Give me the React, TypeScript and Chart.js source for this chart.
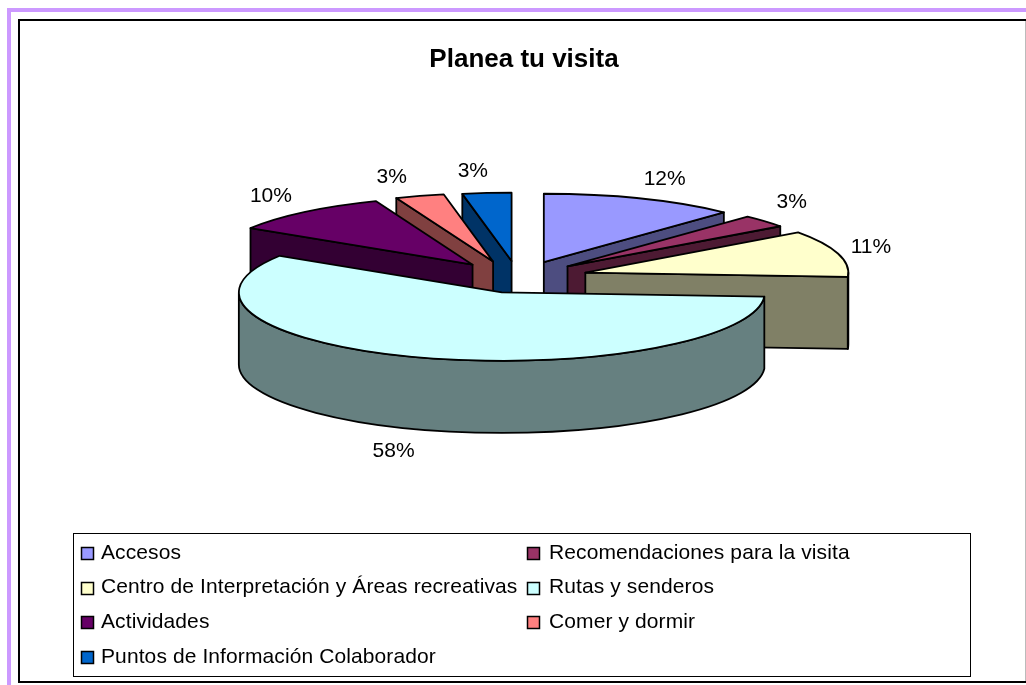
import React, { useEffect, useRef } from "react";
import { Chart, registerables } from "chart.js";

Chart.register(...registerables);

const categories = [
  "Accesos",
  "Recomendaciones para la visita",
  "Centro de Interpretación y Áreas recreativas",
  "Rutas y senderos",
  "Actividades",
  "Comer y dormir",
  "Puntos de Información Colaborador",
];
const shares = [12, 3, 11, 58, 10, 3, 3];
const topColors = ["#9999FF", "#993366", "#FFFFCC", "#CCFFFF", "#660066", "#FF8080", "#0066CC"];
const wallColors = ["#4D4D80", "#4D1A33", "#808066", "#668080", "#330033", "#804040", "#003366"];

const TILT = 0.26;
const DEPTH = 72;
const EXPLODE = 62;
const RADIUS = 263;
const SHIFT_X = -3;
const FONT = "'Liberation Sans', Arial, sans-serif";
// horizontal explosion of each slice (the reference's perspective spreads the upper-left ones)
const explodeX = [62, 62, 67, 62, 76, 100, 100];
// label nudge from the slice rim, [dx, dy]
const labelNudges = [[24, -19], [27, -19], [33, -6], [-27, 94], [-34, -16], [-28, -19], [-14, -22]];

const piePlugin = {
  id: "pie3d",
  beforeDraw(chart: any) {
    const { ctx } = chart;
    ctx.save();
    ctx.fillStyle = "#fff";
    ctx.fillRect(0, 0, 1026, 685);
    ctx.fillStyle = "#CC99FF";
    ctx.fillRect(7, 8, 4, 677);
    ctx.fillRect(7, 8, 1019, 4);
    ctx.fillStyle = "#000";
    ctx.fillRect(18, 19, 1008, 2);
    ctx.fillRect(18, 19, 2, 664);
    ctx.fillRect(18, 681, 1008, 2);
    ctx.fillStyle = "#BBB";
    ctx.fillRect(1025, 21, 1, 660);
    ctx.restore();
  },
  beforeDatasetsDraw(chart: any) {
    const { ctx } = chart;
    const arcs = chart.getDatasetMeta(0).data;
    const slices = arcs.map((arc: any, i: number) => {
      const { x, y, startAngle: a0, endAngle: a1, outerRadius: r } = arc.getProps(["x", "y", "startAngle", "endAngle", "outerRadius"]);
      const mid = (a0 + a1) / 2;
      return {
        i, a0, a1, r, mid,
        ax: x + SHIFT_X + Math.cos(mid) * explodeX[i],
        ay: y + Math.sin(mid) * EXPLODE * TILT,
      };
    });
    slices.sort((p: any, q: any) => p.ay - q.ay);
    ctx.save();
    ctx.lineWidth = 1.8;
    ctx.strokeStyle = "#000";
    ctx.lineJoin = "round";
    const radialWall = (s: any, a: number, ry: number) => {
      const ex = s.ax + Math.cos(a) * s.r;
      const ey = s.ay + Math.sin(a) * ry;
      ctx.beginPath();
      ctx.moveTo(s.ax, s.ay);
      ctx.lineTo(ex, ey);
      ctx.lineTo(ex, ey + DEPTH);
      ctx.lineTo(s.ax, s.ay + DEPTH);
      ctx.closePath();
      ctx.fill();
      ctx.stroke();
    };
    for (const s of slices) {
      const ry = s.r * TILT;
      ctx.fillStyle = wallColors[s.i];
      if (Math.cos(s.a0) < -1e-6) radialWall(s, s.a0, ry);
      if (Math.cos(s.a1) > 1e-6) radialWall(s, s.a1, ry);
      const from = Math.max(s.a0, 0);
      const to = Math.min(s.a1, Math.PI);
      if (to > from) {
        ctx.beginPath();
        ctx.ellipse(s.ax, s.ay, s.r, ry, 0, from, to);
        ctx.ellipse(s.ax, s.ay + DEPTH, s.r, ry, 0, to, from, true);
        ctx.closePath();
        ctx.fill();
        ctx.stroke();
      }
      ctx.fillStyle = topColors[s.i];
      ctx.beginPath();
      ctx.moveTo(s.ax, s.ay);
      ctx.ellipse(s.ax, s.ay, s.r, ry, 0, s.a0, s.a1);
      ctx.closePath();
      ctx.fill();
      ctx.stroke();
    }
    ctx.fillStyle = "#000";
    ctx.font = `21px ${FONT}`;
    ctx.textAlign = "center";
    ctx.textBaseline = "middle";
    for (const s of slices) {
      const [dx, dy] = labelNudges[s.i];
      ctx.fillText(
        `${shares[s.i]}%`,
        s.ax + Math.cos(s.mid) * s.r + dx,
        s.ay + Math.sin(s.mid) * s.r * TILT + dy
      );
    }
    ctx.restore();
    return false;
  },
  afterDraw(chart: any) {
    const { ctx } = chart;
    const box = { left: 73, top: 533, right: 970, bottom: 676 };
    ctx.save();
    ctx.strokeStyle = "#000";
    ctx.lineWidth = 1;
    ctx.strokeRect(box.left + 0.5, box.top + 0.5, box.right - box.left, box.bottom - box.top);
    ctx.font = `21px ${FONT}`;
    ctx.letterSpacing = "0.1px";
    ctx.textBaseline = "middle";
    ctx.textAlign = "left";
    categories.forEach((label, i) => {
      const col = i % 2;
      const row = Math.floor(i / 2);
      const mx = col ? 527 : 81;
      const tx = col ? 549 : 101;
      const y = 553 + row * 34.7;
      ctx.fillStyle = topColors[i];
      ctx.lineWidth = 1.5;
      ctx.fillRect(mx + 0.5, Math.round(y) - 6 + 0.5, 12, 12);
      ctx.strokeRect(mx + 0.5, Math.round(y) - 6 + 0.5, 12, 12);
      ctx.fillStyle = "#000";
      ctx.fillText(label, tx, y);
    });
    ctx.restore();
  },
};

export default function App() {
  const ref = useRef<HTMLCanvasElement>(null);
  useEffect(() => {
    const chart = new Chart(ref.current!, {
      type: "pie",
      data: {
        labels: categories,
        datasets: [{ data: shares, backgroundColor: topColors, borderColor: "#000", borderWidth: 0 }],
      },
      options: {
        responsive: false,
        animation: false,
        radius: RADIUS,
        layout: { padding: { left: 22, top: 0, right: 0, bottom: 216 } },
        plugins: {
          legend: { display: false },
          tooltip: { enabled: false },
          title: {
            display: true,
            text: "Planea tu visita",
            color: "#000",
            font: { family: FONT, size: 26, weight: "bold" },
            padding: { top: 44, bottom: 10 },
          },
        },
      } as any,
      plugins: [piePlugin],
    });
    return () => chart.destroy();
  }, []);
  return (
    <canvas
      ref={ref}
      width={1026}
      height={685}
      style={{ position: "fixed", left: 0, top: 0, width: 1026, height: 685, display: "block" }}
    />
  );
}
